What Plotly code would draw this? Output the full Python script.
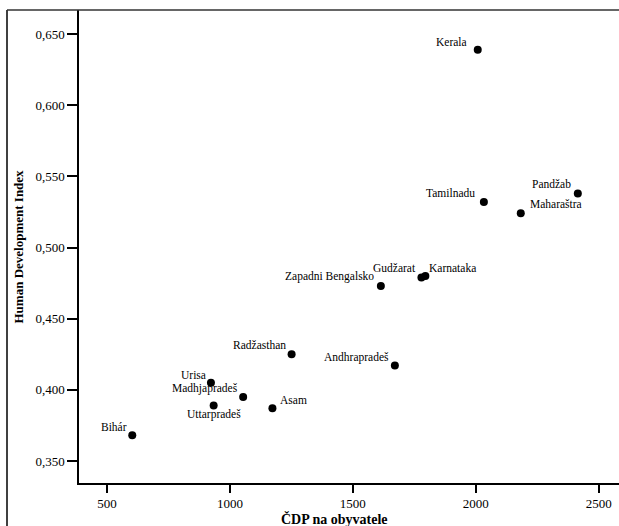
import plotly.graph_objects as go

# ---- data ----
states = ["Kerala", "Tamilnadu", "Pandžab", "Maharaštra", "Zapadni Bengalsko",
          "Gudžarat", "Karnataka", "Andhrapradeš", "Radžasthan", "Urisa",
          "Madhjapradeš", "Uttarpradeš", "Asam", "Bihár"]
gdp_per_capita = [2008, 2033, 2415, 2183, 1614, 1779, 1795, 1671, 1251, 923,
                  1054, 934, 1173, 603]
hdi = [0.639, 0.532, 0.538, 0.524, 0.473, 0.479, 0.480, 0.417, 0.425, 0.405,
       0.395, 0.389, 0.387, 0.368]

x_tick_vals = [500, 1000, 1500, 2000, 2500]
x_tick_text = ["500", "1000", "1500", "2000", "2500"]
y_tick_vals = [0.350, 0.400, 0.450, 0.500, 0.550, 0.600, 0.650]
y_tick_text = ["0,350", "0,400", "0,450", "0,500", "0,550", "0,600", "0,650"]

# label placement (style): (xanchor, xshift, yshift)
label_pos = [("right", -9, 8), ("right", -7, 9), ("right", -5, 9), ("left", 7, 9),
             ("right", -5, 9), ("right", -3, 9), ("left", 2, 8), ("right", -4, 8),
             ("right", -4, 9), ("right", -3, 8), ("right", -3, 8), ("center", 0, -9),
             ("left", 6, 8), ("right", -3, 8)]

SERIF = "Liberation Serif, Times New Roman, serif"

fig = go.Figure()
fig.add_trace(go.Scatter(
    x=gdp_per_capita, y=hdi, mode="markers",
    marker=dict(color="black", size=8),
    hoverinfo="text", text=states, showlegend=False,
))

annotations = []
for name, xv, yv, (anc, xs, ys) in zip(states, gdp_per_capita, hdi, label_pos):
    annotations.append(dict(
        x=xv, y=yv, xref="x", yref="y", text=name, showarrow=False,
        xanchor=anc, yanchor="middle", xshift=xs, yshift=ys,
        font=dict(family=SERIF, size=11.5, color="black"),
    ))

# axis titles
annotations.append(dict(
    x=(334 - 79) / 540, y=-(519 - 483) / 473, xref="paper", yref="paper",
    text="<b>ČDP na obyvatele</b>", showarrow=False, xanchor="center", yanchor="middle",
    font=dict(family=SERIF, size=14, color="black"),
))
annotations.append(dict(
    x=-(79 - 18) / 540, y=0.5, xref="paper", yref="paper",
    text="<b>Human Development Index</b>", showarrow=False, textangle=-90,
    xanchor="center", yanchor="middle",
    font=dict(family=SERIF, size=13, color="black"),
))

shapes = [
    # outer frame: left vertical line and top line
    dict(type="line", xref="paper", yref="paper",
         x0=-(79 - 7) / 540, x1=-(79 - 7) / 540, y0=1, y1=-(526 - 483) / 473,
         line=dict(color="black", width=1.5)),
    dict(type="line", xref="paper", yref="paper",
         x0=-(79 - 7) / 540, x1=1, y0=1, y1=1,
         line=dict(color="#333333", width=1.5)),
]

fig.update_layout(
    width=619, height=526,
    margin=dict(l=79, r=0, t=10, b=43),
    paper_bgcolor="white", plot_bgcolor="white",
    font=dict(family=SERIF, size=12, color="black"),
    xaxis=dict(range=[386.4, 2582.5], tickvals=x_tick_vals, ticktext=x_tick_text,
               ticks="outside", ticklen=8, tickwidth=1.5, tickcolor="black",
               showline=True, linecolor="black", linewidth=1.5,
               showgrid=False, zeroline=False,
               tickfont=dict(family=SERIF, size=13, color="black")),
    yaxis=dict(range=[0.3345, 0.6669], tickvals=y_tick_vals, ticktext=y_tick_text,
               ticks="outside", ticklen=10, tickwidth=1.5, tickcolor="black",
               showline=True, linecolor="black", linewidth=1.5,
               showgrid=False, zeroline=False,
               tickfont=dict(family=SERIF, size=13, color="black")),
    annotations=annotations,
    shapes=shapes,
)

fig.write_html(
    "out.html",
    config={"displayModeBar": False},
    post_script="document.body.style.margin='0';document.body.style.overflow='hidden';",
)
